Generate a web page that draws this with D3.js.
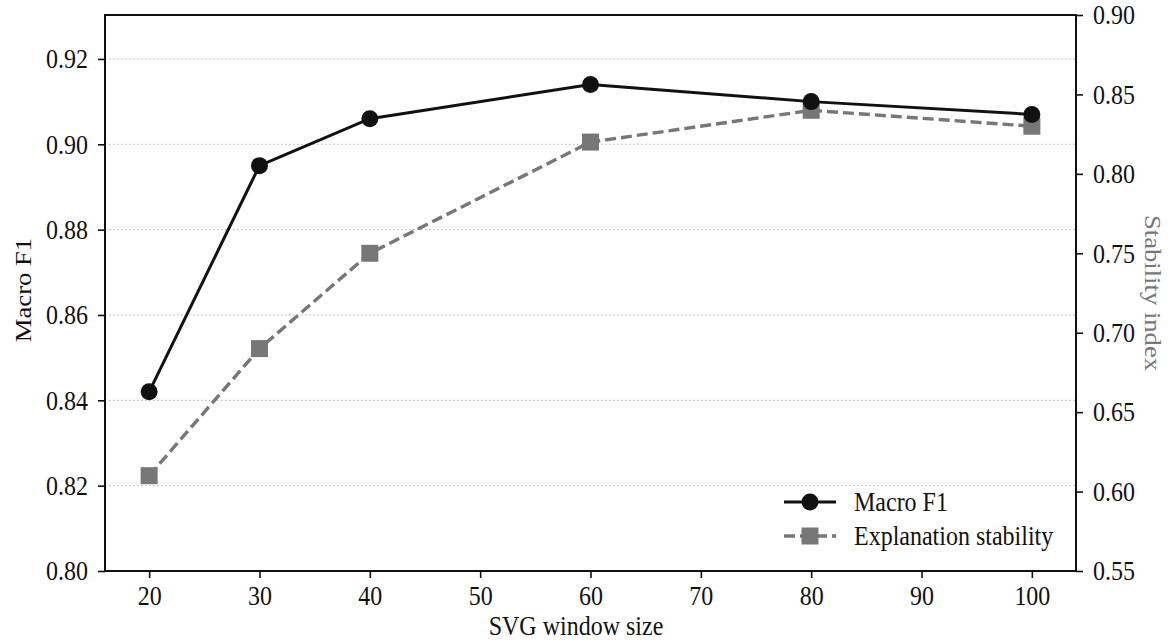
<!DOCTYPE html>
<html>
<head>
<meta charset="utf-8">
<script src="https://cdn.jsdelivr.net/npm/d3@7"></script>
<style>
  body { margin: 0; background: #fff; }
  svg text { font-family: "Liberation Serif", "Times New Roman", serif; }
</style>
</head>
<body>
<div id="chart"></div>
<script>
// data
const windowSizes = [20, 30, 40, 60, 80, 100];
const macroF1 = [0.842, 0.895, 0.906, 0.914, 0.910, 0.907];
const stability = [0.61, 0.69, 0.75, 0.82, 0.84, 0.83];
const xTicks = [20, 30, 40, 50, 60, 70, 80, 90, 100];
const leftTicks = [0.80, 0.82, 0.84, 0.86, 0.88, 0.90, 0.92];
const rightTicks = [0.55, 0.60, 0.65, 0.70, 0.75, 0.80, 0.85, 0.90];

const width = 1171, height = 644;
const margin = { top: 15, right: 95, bottom: 73, left: 105 };
const innerW = width - margin.left - margin.right;
const innerH = height - margin.top - margin.bottom;

const black = "#111", gray = "#777";
const fontSize = 24, stretchY = 1.11;   // the picture is a bit taller than wide

const svg = d3.select("#chart").append("svg")
    .attr("width", width)
    .attr("height", height);
const g = svg.append("g")
    .attr("transform", `translate(${margin.left},${margin.top})`);

const x = d3.scaleLinear().domain([16, 104]).range([0, innerW]);
const yL = d3.scaleLinear().domain([0.80, 0.9303]).range([innerH, 0]);
const yR = d3.scaleLinear().domain([0.55, 0.90]).range([innerH, 0]);

// grid
g.append("g")
  .selectAll("line")
  .data(leftTicks.slice(1))
  .join("line")
    .attr("x1", 0).attr("x2", innerW)
    .attr("y1", d => yL(d)).attr("y2", d => yL(d))
    .style("stroke", "#b0b0b0")
    .style("stroke-width", 1)
    .style("stroke-dasharray", "1.5,2.5");

// axes
const styleAxis = (sel, dx, dy, anchor, shift) => {
  sel.select(".domain").remove();
  sel.selectAll(".tick line").style("stroke", black).style("stroke-width", 1.6);
  sel.selectAll(".tick text")
    .attr("x", null).attr("y", null).attr("dy", shift)
    .attr("text-anchor", anchor)
    .attr("transform", `translate(${dx},${dy}) scale(1,${stretchY})`)
    .style("font-size", fontSize + "px").style("fill", black);
};

g.append("g")
  .attr("transform", `translate(0,${innerH})`)
  .call(d3.axisBottom(x).tickValues(xTicks).tickSize(7).tickFormat(d3.format("d")))
  .call(styleAxis, 0, 34, "middle", "0");

g.append("g")
  .call(d3.axisLeft(yL).tickValues(leftTicks).tickSize(7).tickFormat(d3.format(".2f")))
  .call(styleAxis, -17, 0, "end", "0.33em");

g.append("g")
  .attr("transform", `translate(${innerW},0)`)
  .call(d3.axisRight(yR).tickValues(rightTicks).tickSize(7).tickFormat(d3.format(".2f")))
  .call(styleAxis, 17, 0, "start", "0.33em");

// frame
g.append("rect")
  .attr("width", innerW).attr("height", innerH)
  .style("fill", "none").style("stroke", black).style("stroke-width", 2);

// lines
const lineL = d3.line().x((d, i) => x(windowSizes[i])).y(d => yL(d));
const lineR = d3.line().x((d, i) => x(windowSizes[i])).y(d => yR(d));

g.append("path").datum(stability)
  .attr("d", lineR)
  .style("fill", "none").style("stroke", gray)
  .style("stroke-width", 3.4).style("stroke-dasharray", "11,5");

g.append("g").selectAll("rect")
  .data(stability)
  .join("rect")
    .attr("x", (d, i) => x(windowSizes[i]) - 8.5)
    .attr("y", d => yR(d) - 8.5)
    .attr("width", 17).attr("height", 17)
    .style("fill", gray);

g.append("path").datum(macroF1)
  .attr("d", lineL)
  .style("fill", "none").style("stroke", black).style("stroke-width", 3);

g.append("g").selectAll("circle")
  .data(macroF1)
  .join("circle")
    .attr("cx", (d, i) => x(windowSizes[i]))
    .attr("cy", d => yL(d))
    .attr("r", 8.5)
    .style("fill", black);

// text helper
const label = (sel, tx, ty, str, opts = {}) => sel.append("text")
  .attr("transform", `translate(${tx},${ty}) scale(1,${stretchY})` + (opts.rotate ? ` rotate(${opts.rotate})` : ""))
  .attr("text-anchor", opts.anchor || "start")
  .attr("dy", opts.dy || "0")
  .style("font-size", fontSize + "px")
  .style("fill", opts.fill || black)
  .text(str);

// legend
const legend = svg.append("g").attr("transform", "translate(784,502)");
legend.append("line").attr("x1", 0).attr("x2", 52).attr("y1", 0).attr("y2", 0)
  .style("stroke", black).style("stroke-width", 3);
legend.append("circle").attr("cx", 26).attr("cy", 0).attr("r", 8.5).style("fill", black);
label(legend, 70, 0, "Macro F1", { dy: "0.33em" });

legend.append("line").attr("x1", 0).attr("x2", 52).attr("y1", 34).attr("y2", 34)
  .style("stroke", gray).style("stroke-width", 3.4).style("stroke-dasharray", "11,5");
legend.append("rect").attr("x", 17.5).attr("y", 25.5).attr("width", 17).attr("height", 17).style("fill", gray);
label(legend, 70, 34, "Explanation stability", { dy: "0.33em" });

// axis labels
label(svg, 576, 635, "SVG window size", { anchor: "middle" });
label(svg, 31, 290, "Macro F1", { anchor: "middle", rotate: -90 });
label(svg, 1145, 293, "Stability index", { anchor: "middle", rotate: 90, fill: gray });
</script>
</body>
</html>
